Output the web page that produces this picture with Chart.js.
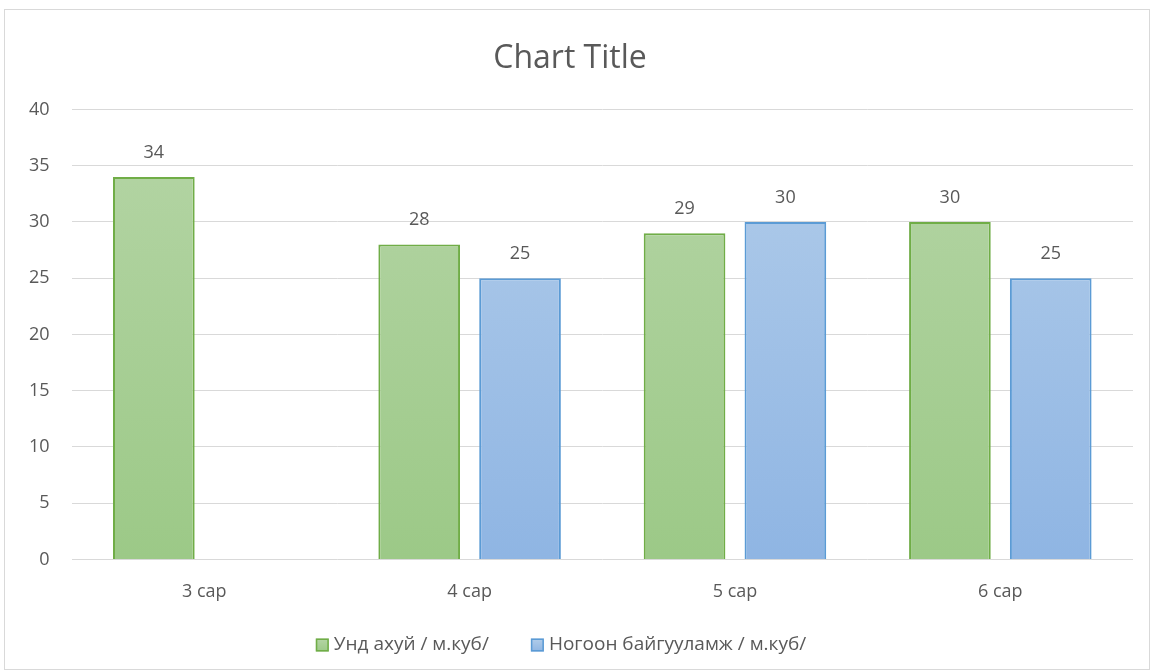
<!DOCTYPE html>
<html>
<head>
<meta charset="utf-8">
<script src="https://cdn.jsdelivr.net/npm/chart.js@4/dist/chart.umd.min.js"></script>
<style>
  body { margin: 0; background: #fff; }
  #box {
    position: absolute; left: 4px; top: 9px;
    width: 1146px; height: 661px;
    border: 1px solid #d9d9d9; box-sizing: border-box;
  }
</style>
</head>
<body>
<div id="box"><canvas id="chart"></canvas></div>
<script>
const categories = ['3 сар', '4 сар', '5 сар', '6 сар'];
const drinkingWater = [34, 28, 29, 30];
const greenery = [null, 25, 30, 25];
const seriesNames = ['Унд ахуй / м.куб/', 'Ногоон байгууламж / м.куб/'];
const yTicks = { min: 0, max: 40, step: 5 };

const FONT = "'Open Sans', 'Noto Sans', sans-serif";
const GREY = '#595959';
const fills = [['#b5d5a6', '#9cc987'], ['#b2cdea', '#8fb5e3']];
const borders = ['#70ad47', '#5b9bd5'];

function grad(top, bottom) {
    return (ctx) => {
        const area = ctx.chart.chartArea;
        if (!area) return bottom;
        const g = ctx.chart.ctx.createLinearGradient(0, area.top, 0, area.bottom);
        g.addColorStop(0, top);
        g.addColorStop(1, bottom);
        return g;
    };
}

// value above each bar
const valueLabels = {
    id: 'valueLabels',
    afterDatasetsDraw(chart) {
        const ctx = chart.ctx;
        ctx.save();
        ctx.font = `18px ${FONT}`;
        ctx.fillStyle = GREY;
        ctx.textAlign = 'center';
        ctx.textBaseline = 'alphabetic';
        chart.data.datasets.forEach((ds, di) => {
            chart.getDatasetMeta(di).data.forEach((bar, i) => {
                if (ds.data[i] == null) return;
                ctx.fillText(ds.data[i], bar.x, bar.y - 19);
            });
        });
        ctx.restore();
    }
};

// excel-like legend at the bottom (wider gap between items than chart.js gives)
const bottomLegend = {
    id: 'bottomLegend',
    afterDraw(chart) {
        const ctx = chart.ctx;
        const box = 13, gap = 5, spacing = 42;
        const y = chart.height - 24;
        ctx.save();
        ctx.font = `19px ${FONT}`;
        const widths = chart.data.datasets.map(ds => ctx.measureText(ds.label).width);
        const total = widths.reduce((a, w) => a + box + gap + w, 0) + spacing * (widths.length - 1);
        let x = chart.width / 2 - 16 - total / 2;
        chart.data.datasets.forEach((ds, i) => {
            const g = ctx.createLinearGradient(0, y - box / 2, 0, y + box / 2);
            g.addColorStop(0, fills[i][0]);
            g.addColorStop(1, fills[i][1]);
            ctx.fillStyle = g;
            ctx.fillRect(x, y - box / 2, box, box);
            ctx.strokeStyle = borders[i];
            ctx.lineWidth = 1.5;
            ctx.strokeRect(x + 0.75, y - box / 2 + 0.75, box - 1.5, box - 1.5);
            ctx.fillStyle = GREY;
            ctx.textBaseline = 'middle';
            ctx.textAlign = 'left';
            ctx.fillText(ds.label, x + box + gap, y);
            x += box + gap + widths[i] + spacing;
        });
        ctx.restore();
    }
};

new Chart(document.getElementById('chart'), {
    type: 'bar',
    data: {
        labels: categories,
        datasets: [{
            label: seriesNames[0],
            data: drinkingWater,
            backgroundColor: grad(fills[0][0], fills[0][1]),
            borderColor: borders[0],
            borderWidth: 2,
            categoryPercentage: 0.76,
            barPercentage: 0.81
        }, {
            label: seriesNames[1],
            data: greenery,
            backgroundColor: grad(fills[1][0], fills[1][1]),
            borderColor: borders[1],
            borderWidth: 2,
            categoryPercentage: 0.76,
            barPercentage: 0.81
        }]
    },
    options: {
        responsive: true,
        maintainAspectRatio: false,
        animation: false,
        layout: { padding: { left: 2, right: 16, top: 20, bottom: 44 } },
        scales: {
            y: {
                min: yTicks.min,
                max: yTicks.max,
                ticks: { stepSize: yTicks.step, color: GREY, font: { family: FONT, size: 18 }, padding: 22 },
                grid: { color: '#d9d9d9', drawTicks: false },
                border: { display: false }
            },
            x: {
                ticks: { color: GREY, font: { family: FONT, size: 18 }, padding: 22 },
                grid: { display: false, drawTicks: false },
                border: { display: false }
            }
        },
        plugins: {
            title: {
                display: true,
                text: 'Chart Title',
                color: GREY,
                font: { family: FONT, size: 32, weight: 'normal' },
                padding: { top: 10, bottom: 31 }
            },
            legend: { display: false },
            tooltip: { enabled: false }
        }
    },
    plugins: [valueLabels, bottomLegend]
});
</script>
</body>
</html>
